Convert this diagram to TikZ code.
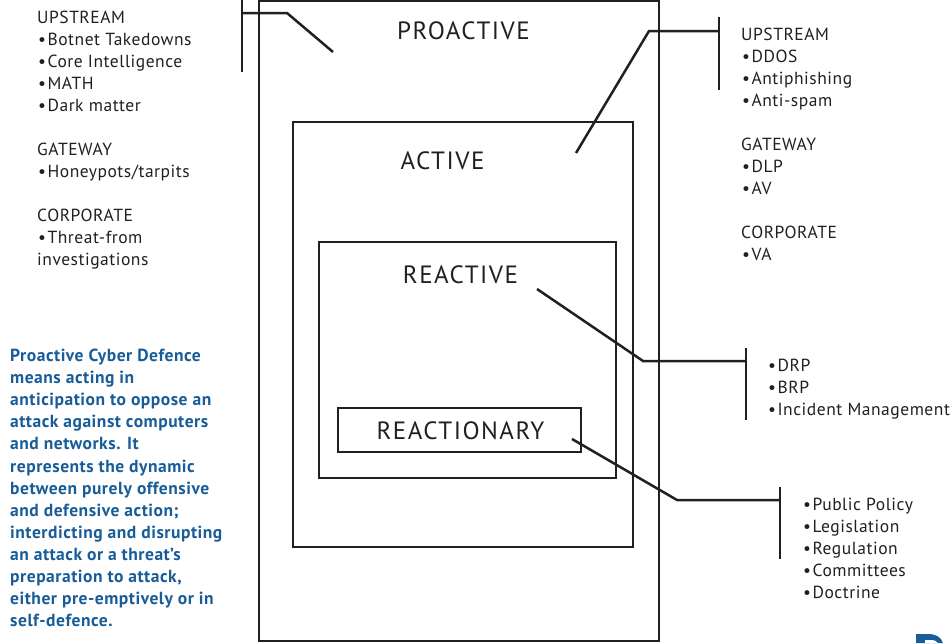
\documentclass[tikz,border=0pt]{standalone}
\usepackage{fontspec}
\setmainfont{PT Sans}
\newfontfamily\itemfont[LetterSpace=3]{PT Sans}
\newfontfamily\titlefont[LetterSpace=6]{PT Sans}
\definecolor{ink}{RGB}{35,31,32}
\definecolor{defblue}{RGB}{24,92,152}
\newcommand{\bul}{\textbullet\hspace{1.5pt}}

\begin{document}
\begin{tikzpicture}[x=1pt,y=-1pt,
  box/.style={draw=ink, line width=2.7pt},
  lead/.style={draw=ink, line width=2.5pt},
  bar/.style={draw=ink, line width=2.7pt},
  item/.style={anchor=base west, inner sep=0pt, font=\itemfont\fontsize{17.5}{20}\selectfont, text=ink},
  title/.style={anchor=base, inner sep=0pt, font=\titlefont\fontsize{25}{28}\selectfont, text=ink},
  note/.style={anchor=base west, inner sep=0pt, font=\itemfont\fontsize{17.5}{20}\selectfont\bfseries, text=defblue}]
\useasboundingbox (0,0) rectangle (952,643);

% nested layers
\draw[box] (259,1) rectangle (659,641);
\draw[box] (293,122) rectangle (633,547);
\draw[box] (319,242) rectangle (616,478);
\draw[box] (338,408) rectangle (581,452);

\node[title] (proactive) at (463.5,39.5) {PROACTIVE};
\node[title] (active) at (442.5,169.5) {ACTIVE};
\node[title] (reactive) at (460.5,283.5) {REACTIVE};
\node[title] (reactionary) at (460.5,439.5) {REACTIONARY};

% leader end points
\coordinate (p1) at (333,52);
\coordinate (p1k) at (287,13);
\coordinate (p1b) at (242,13);
\coordinate (p1t) at (242,0);
\coordinate (p1d) at (242,72);

\coordinate (p2) at (576,153);
\coordinate (p2k) at (649,31);
\coordinate (p2b) at (719,31);
\coordinate (p2t) at (719,17);
\coordinate (p2d) at (719,90);

\coordinate (p3) at (537,289);
\coordinate (p3k) at (643,361);
\coordinate (p3b) at (746,361);
\coordinate (p3t) at (746,348);
\coordinate (p3d) at (746,420);

\coordinate (p4) at (572,439);
\coordinate (p4k) at (677,500);
\coordinate (p4b) at (780,500);
\coordinate (p4t) at (780,487);
\coordinate (p4d) at (780,559);

\draw[lead] (p1) -- (p1k) -- (p1b);
\draw[bar] (p1t) -- (p1d);
\draw[lead] (p2) -- (p2k) -- (p2b);
\draw[bar] (p2t) -- (p2d);
\draw[lead] (p3) -- (p3k) -- (p3b);
\draw[bar] (p3t) -- (p3d);
\draw[lead] (p4) -- (p4k) -- (p4b);
\draw[bar] (p4t) -- (p4d);

% proactive measures
\node[item] (l1) at (37,23) {UPSTREAM};
\node[item] (l2) at (38,45) {\bul Botnet Takedowns};
\node[item] (l3) at (38,67) {\bul Core Intelligence};
\node[item] (l4) at (38,89) {\bul MATH};
\node[item] (l5) at (38,111) {\bul Dark matter};
\node[item] (l6) at (37,155) {GATEWAY};
\node[item] (l7) at (38,177) {\bul Honeypots/tarpits};
\node[item] (l8) at (37,221) {CORPORATE};
\node[item] (l9) at (38,243) {\bul Threat-from};
\node[item] (l10) at (37,265) {investigations};

% active measures
\node[item] (r1) at (741,40) {UPSTREAM};
\node[item] (r2) at (742,62) {\bul DDOS};
\node[item] (r3) at (742,84) {\bul Antiphishing};
\node[item] (r4) at (742,106) {\bul Anti-spam};
\node[item] (r5) at (741,150) {GATEWAY};
\node[item] (r6) at (742,172) {\bul DLP};
\node[item] (r7) at (742,194) {\bul AV};
\node[item] (r8) at (741,238) {CORPORATE};
\node[item] (r9) at (742,260) {\bul VA};

% reactive measures
\node[item] (m1) at (768,371) {\bul DRP};
\node[item] (m2) at (768,393) {\bul BRP};
\node[item] (m3) at (768,415) {\bul Incident Management};

% reactionary measures
\node[item] (n1) at (803,510) {\bul Public Policy};
\node[item] (n2) at (803,532) {\bul Legislation};
\node[item] (n3) at (803,554) {\bul Regulation};
\node[item] (n4) at (803,576) {\bul Committees};
\node[item] (n5) at (803,598) {\bul Doctrine};

% definition
\foreach \t [count=\i from 0] in {
  {Proactive Cyber Defence},
  {means acting in},
  {anticipation to oppose an},
  {attack against computers},
  {and networks. It},
  {represents the dynamic},
  {between purely offensive},
  {and defensive action;},
  {interdicting and disrupting},
  {an attack or a threat’s},
  {preparation to attack,},
  {either pre-emptively or in},
  {self-defence.}}
  \node[note] (note\i) at (10,361.5+22.1*\i) {\t};

% corner of a logo mark
\fill[defblue] (916,643) -- (916,634) -- (928,634)
  .. controls (936,634) and (941,637) .. (943,643) -- cycle;
\fill[white] (925,643) -- (925,640) -- (930,640)
  .. controls (934,640) and (937,641) .. (938,643) -- cycle;
\end{tikzpicture}
\end{document}
